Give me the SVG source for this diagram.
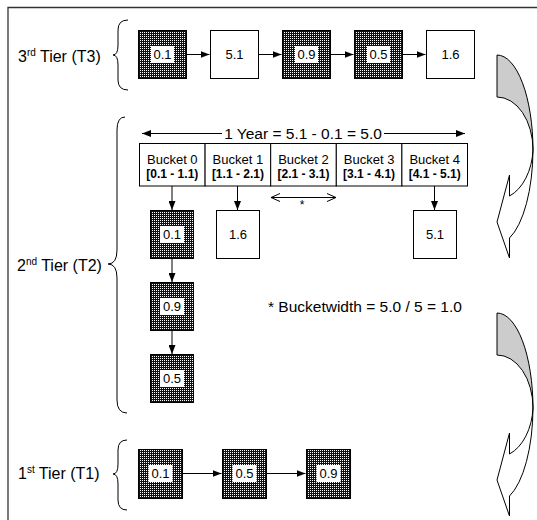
<svg xmlns="http://www.w3.org/2000/svg" width="537" height="520" viewBox="0 0 537 520">
<defs>
<pattern id="hatch" width="2" height="2" patternUnits="userSpaceOnUse"><rect width="2" height="2" fill="#111"/><rect width="1" height="1" fill="#fff"/></pattern>
<marker id="ah" viewBox="0 0 9 7" refX="9" refY="3.5" markerWidth="9" markerHeight="7" markerUnits="userSpaceOnUse" orient="auto"><path d="M0,0 L9,3.5 L0,7 z" fill="#000"/></marker>
<marker id="oh" viewBox="-1 -1 11 10" refX="9" refY="4" markerWidth="11" markerHeight="10" markerUnits="userSpaceOnUse" orient="auto-start-reverse"><path d="M0,0 L9,4 L0,8" fill="none" stroke="#000" stroke-width="1"/></marker>
</defs>
<style>
text{font-family:"Liberation Sans",Arial,sans-serif;fill:#000}
.lbl{font-size:15.5px}
.tl{font-size:16px}
.sup{font-size:10px}
.n{font-size:13px;text-anchor:middle}
.b{font-size:13px;text-anchor:middle}
.bb{font-size:12px;font-weight:bold;text-anchor:middle}
.box{stroke:#000;stroke-width:1}
.dark{fill:url(#hatch)}
.light{fill:#fff}
.tag{fill:#fff;stroke:none}
.ln{stroke:#000;stroke-width:1;fill:none}
.brace{stroke:#000;stroke-width:1;fill:none}
.gray{fill:#cccccc;stroke:#000;stroke-width:1}
.white{fill:#fff;stroke:#000;stroke-width:1}
</style>
<rect width="537" height="520" fill="#fff"/>
<!-- frame -->
<path d="M8,520 L8,7.5 L537,7.5" fill="none" stroke="#333" stroke-width="1.3"/>

<!-- tier labels and braces -->
<g id="tier3-label">
<text class="tl" x="18" y="62">3<tspan class="sup" dy="-6">rd</tspan><tspan dy="6"> Tier (T3)</tspan></text>
<path class="brace" d="M128,20 Q118,20 118,30 L118,45 Q118,55 113,55 Q118,55 118,65 L118,80 Q118,90 128,90"/>
</g>
<g id="tier2-label">
<text class="tl" x="17" y="271">2<tspan class="sup" dy="-6">nd</tspan><tspan dy="6"> Tier (T2)</tspan></text>
<path class="brace" d="M125,117 Q117,117 117,130 L117,250 Q117,264 108,264 Q117,264 117,278 L117,400 Q117,413 127,413"/>
</g>
<g id="tier1-label">
<text class="tl" x="18" y="479">1<tspan class="sup" dy="-6">st</tspan><tspan dy="6"> Tier (T1)</tspan></text>
<path class="brace" d="M127,440 Q118,440 118,450 L118,464 Q118,474 113,474 Q118,474 118,484 L118,500 Q118,510 127,510"/>
</g>

<!-- connectors -->
<g id="connectors" class="ln">
<line x1="187" y1="54.5" x2="209.5" y2="54.5" marker-end="url(#ah)"/>
<line x1="259" y1="54.5" x2="281.5" y2="54.5" marker-end="url(#ah)"/>
<line x1="331" y1="54.5" x2="353.5" y2="54.5" marker-end="url(#ah)"/>
<line x1="403" y1="54.5" x2="425.5" y2="54.5" marker-end="url(#ah)"/>
<line x1="222" y1="133.5" x2="142" y2="133.5" marker-end="url(#ah)"/>
<line x1="384" y1="133.5" x2="465" y2="133.5" marker-end="url(#ah)"/>
<line x1="271" y1="197.5" x2="336" y2="197.5" marker-start="url(#oh)" marker-end="url(#oh)"/>
<line x1="172" y1="186" x2="172" y2="210" marker-end="url(#ah)"/>
<line x1="237.5" y1="186" x2="237.5" y2="210" marker-end="url(#ah)"/>
<line x1="434.5" y1="186" x2="434.5" y2="210" marker-end="url(#ah)"/>
<line x1="172" y1="258" x2="172" y2="282" marker-end="url(#ah)"/>
<line x1="172" y1="330" x2="172" y2="354" marker-end="url(#ah)"/>
<line x1="182" y1="473.5" x2="221.5" y2="473.5" marker-end="url(#ah)"/>
<line x1="266" y1="473.5" x2="305.5" y2="473.5" marker-end="url(#ah)"/>
</g>

<!-- tier 3 nodes -->
<g id="t3-01"><rect class="box dark" x="138.5" y="30.5" width="48" height="48"/><rect class="tag" x="151" y="46" width="23" height="17"/><text class="n" x="162.5" y="59">0.1</text></g>
<g id="t3-51"><rect class="box light" x="210.5" y="30.5" width="48" height="48"/><text class="n" x="234.5" y="59">5.1</text></g>
<g id="t3-09"><rect class="box dark" x="282.5" y="30.5" width="48" height="48"/><rect class="tag" x="295" y="46" width="23" height="17"/><text class="n" x="306.5" y="59">0.9</text></g>
<g id="t3-05"><rect class="box dark" x="354.5" y="30.5" width="48" height="48"/><rect class="tag" x="367" y="46" width="23" height="17"/><text class="n" x="378.5" y="59">0.5</text></g>
<g id="t3-16"><rect class="box light" x="426.5" y="30.5" width="48" height="48"/><text class="n" x="450.5" y="59">1.6</text></g>

<!-- year label -->
<text class="lbl" x="303" y="138.5" text-anchor="middle">1 Year = 5.1 - 0.1 = 5.0</text>

<!-- buckets -->
<g id="bucket0"><rect class="box light" x="139.5" y="143.5" width="65.6" height="42.5"/><text class="b" x="172.3" y="164">Bucket 0</text><text class="bb" x="172.3" y="178">[0.1 - 1.1)</text></g>
<g id="bucket1"><rect class="box light" x="205.1" y="143.5" width="65.6" height="42.5"/><text class="b" x="237.9" y="164">Bucket 1</text><text class="bb" x="237.9" y="178">[1.1 - 2.1)</text></g>
<g id="bucket2"><rect class="box light" x="270.7" y="143.5" width="65.6" height="42.5"/><text class="b" x="303.5" y="164">Bucket 2</text><text class="bb" x="303.5" y="178">[2.1 - 3.1)</text></g>
<g id="bucket3"><rect class="box light" x="336.3" y="143.5" width="65.6" height="42.5"/><text class="b" x="369.1" y="164">Bucket 3</text><text class="bb" x="369.1" y="178">[3.1 - 4.1)</text></g>
<g id="bucket4"><rect class="box light" x="401.9" y="143.5" width="65.6" height="42.5"/><text class="b" x="434.7" y="164">Bucket 4</text><text class="bb" x="434.7" y="178">[4.1 - 5.1)</text></g>
<text x="302" y="209" font-size="12" text-anchor="middle">*</text>

<!-- tier 2 nodes -->
<g id="t2-01"><rect class="box dark" x="150.5" y="210.5" width="43" height="48"/><rect class="tag" x="160" y="226" width="24" height="17"/><text class="n" x="172" y="239">0.1</text></g>
<g id="t2-09"><rect class="box dark" x="150.5" y="282.5" width="43" height="48"/><rect class="tag" x="160" y="298" width="24" height="17"/><text class="n" x="172" y="311">0.9</text></g>
<g id="t2-05"><rect class="box dark" x="150.5" y="354.5" width="43" height="48"/><rect class="tag" x="160" y="370" width="24" height="17"/><text class="n" x="172" y="383">0.5</text></g>
<g id="t2-16"><rect class="box light" x="216.5" y="210.5" width="43" height="48"/><text class="n" x="238" y="239">1.6</text></g>
<g id="t2-51"><rect class="box light" x="413.5" y="210.5" width="43" height="48"/><text class="n" x="435" y="239">5.1</text></g>

<text class="lbl" x="268" y="312">* Bucketwidth = 5.0 / 5 = 1.0</text>

<!-- tier 1 nodes -->
<g id="t1-01"><rect class="box dark" x="138.5" y="449.5" width="44" height="49"/><rect class="tag" x="148.5" y="465" width="24" height="17"/><text class="n" x="160.5" y="478">0.1</text></g>
<g id="t1-05"><rect class="box dark" x="222.5" y="449.5" width="44" height="49"/><rect class="tag" x="232.5" y="465" width="24" height="17"/><text class="n" x="244.5" y="478">0.5</text></g>
<g id="t1-09"><rect class="box dark" x="306.5" y="449.5" width="44" height="49"/><rect class="tag" x="316.5" y="465" width="24" height="17"/><text class="n" x="328.5" y="478">0.9</text></g>

<!-- curved tier arrows -->
<g id="curve-arrow-1">
<path class="white" d="M533,150 A36,95 0 0 1 509.5,238 L509.5,258 L497,222 L509.5,175 L509.5,196 A36,53 0 0 0 533,150 Z"/>
<path class="gray" d="M497,55 A36,95 0 0 1 533,150 A36,53 0 0 0 497,97 Z"/>
</g>
<g id="curve-arrow-2" transform="translate(0,258)">
<path class="white" d="M533,150 A36,95 0 0 1 509.5,238 L509.5,258 L497,222 L509.5,175 L509.5,196 A36,53 0 0 0 533,150 Z"/>
<path class="gray" d="M497,55 A36,95 0 0 1 533,150 A36,53 0 0 0 497,97 Z"/>
</g>
</svg>
